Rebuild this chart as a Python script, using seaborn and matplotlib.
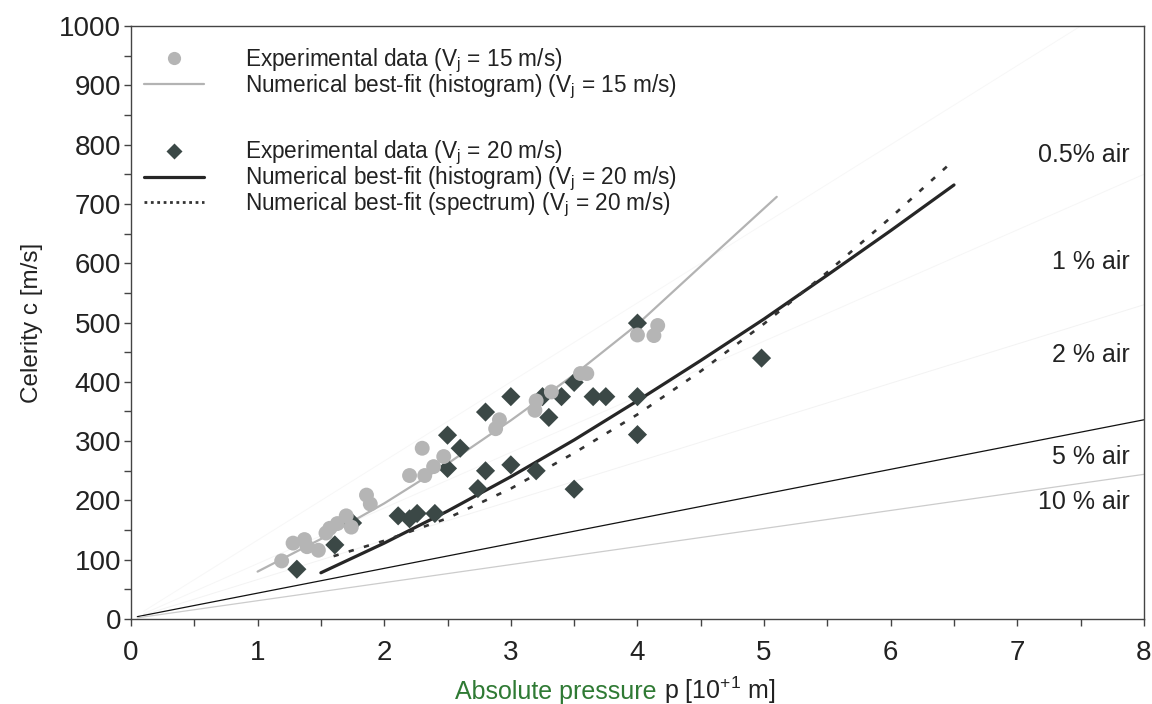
import matplotlib
matplotlib.use("Agg")
import matplotlib.pyplot as plt
import seaborn as sns
from matplotlib.lines import Line2D
from matplotlib.offsetbox import TextArea, HPacker, AnchoredOffsetbox

# --- data ---
# experimental data, Vj = 15 m/s (grey circles)
p15 = [1.19, 1.28, 1.37, 1.39, 1.48, 1.54, 1.57, 1.63, 1.70, 1.74, 1.86, 1.89,
       2.20, 2.30, 2.32, 2.39, 2.47, 2.88, 2.91, 3.19, 3.20, 3.32, 3.55, 3.60,
       4.00, 4.13, 4.16]
c15 = [98, 128, 134, 122, 116, 145, 153, 161, 174, 155, 209, 194,
       242, 288, 242, 257, 274, 321, 336, 352, 368, 383, 414, 414,
       479, 478, 495]

# experimental data, Vj = 20 m/s (dark diamonds)
p20 = [1.31, 1.61, 1.75, 2.11, 2.20, 2.26, 2.40, 2.50, 2.50, 2.60, 2.74, 2.80,
       2.80, 3.00, 3.00, 3.20, 3.25, 3.30, 3.40, 3.50, 3.50, 3.65, 3.75, 4.00,
       4.00, 4.00, 4.98]
c20 = [84, 125, 162, 174, 169, 178, 178, 310, 254, 288, 220, 349,
       250, 260, 375, 250, 375, 340, 375, 399, 219, 375, 375, 375,
       499, 311, 440]

# numerical best-fit curves
fit15_p = [1.0, 1.5, 2.0, 2.5, 3.0, 3.5, 4.0, 4.5, 5.1]
fit15_c = [80, 135, 195, 262, 335, 412, 497, 595, 712]

fit20_p = [1.5, 2.0, 2.5, 3.0, 3.5, 4.0, 4.5, 5.0, 5.5, 6.0, 6.5]
fit20_c = [78, 128, 182, 240, 302, 368, 436, 506, 580, 655, 732]

spec20_p = [1.6, 2.0, 2.5, 3.0, 3.5, 4.0, 4.5, 5.0, 5.5, 6.0, 6.5]
spec20_c = [106, 132, 170, 220, 280, 345, 418, 498, 585, 677, 774]

# air-content reference lines (end points)
air_labels = ["0.5% air", "1 % air", "2 % air", "5 % air", "10 % air"]
air_p = [[0.1, 7.5], [0.1, 8.0], [0.1, 8.0], [0.05, 8.0], [0.05, 8.0]]
air_c = [[13, 1000], [9, 750], [7, 530], [4, 336], [2, 244]]
air_label_c = [782, 602, 445, 273, 197]

# --- plot ---
sns.set_theme(style="ticks")
plt.rcParams["font.family"] = ["Liberation Sans", "DejaVu Sans"]
plt.rcParams["mathtext.default"] = "regular"

fig, ax = plt.subplots(figsize=(11.52, 7.04), dpi=100)
fig.subplots_adjust(left=0.1137, right=0.993, bottom=0.1207, top=0.963)

air_colors = ["#f7f7f7", "#f6f6f6", "#f3f3f3", "#111111", "#cccccc"]
air_widths = [0.7, 0.7, 0.7, 0.9, 0.9]
for xs, ys, col, lw in zip(air_p, air_c, air_colors, air_widths):
    sns.lineplot(x=xs, y=ys, ax=ax, color=col, lw=lw, sort=False)

sns.lineplot(x=fit15_p, y=fit15_c, ax=ax, color="#b3b3b3", lw=1.6, sort=False)
sns.lineplot(x=fit20_p, y=fit20_c, ax=ax, color="#262626", lw=2.3, sort=False)
sns.lineplot(x=spec20_p, y=spec20_c, ax=ax, color="#333333", lw=1.9, sort=False,
             linestyle=(0, (2, 4)))

sns.scatterplot(x=p20, y=c20, ax=ax, marker="D", s=95, color="#3b4846",
                edgecolor="none", zorder=3)
sns.scatterplot(x=p15, y=c15, ax=ax, marker="o", s=115, color="#b5b5b5",
                edgecolor="none", zorder=4)

for lab, yc in zip(air_labels, air_label_c):
    ax.text(7.89, yc, lab, ha="right", va="center", fontsize=18, color="#222222")

ax.set_xlim(0, 8)
ax.set_ylim(0, 1000)
ax.set_xticks(range(0, 9))
ax.set_xticks([i + 0.5 for i in range(8)], minor=True)
ax.set_yticks(range(0, 1001, 100))
ax.set_yticks(range(50, 1000, 100), minor=True)
ax.tick_params(axis="both", which="both", direction="out", length=5, width=1,
               color="#444444", labelsize=20, labelcolor="#222222")
ax.tick_params(axis="x", pad=10)
ax.tick_params(axis="y", pad=2)
for sp in ax.spines.values():
    sp.set_color("#444444")
    sp.set_linewidth(1.0)

ax.set_ylabel("Celerity c [m/s]", fontsize=17.5, color="#222222", labelpad=12)

# x label: first part printed in green
xl = HPacker(children=[
    TextArea("Absolute pressure ", textprops=dict(color="#2f7a34", size=18)),
    TextArea("p [10$^{+1}$ m]", textprops=dict(color="#222222", size=18)),
], align="baseline", pad=0, sep=0)
box = AnchoredOffsetbox(loc="upper center", child=xl, pad=0, frameon=False,
                        bbox_to_anchor=(0.478, -0.093), bbox_transform=ax.transAxes,
                        borderpad=0)
ax.add_artist(box)

blank = Line2D([], [], linestyle="none")
handles = [
    Line2D([], [], marker="o", linestyle="none", markersize=9.5,
           markerfacecolor="#b5b5b5", markeredgecolor="none"),
    Line2D([], [], color="#b3b3b3", lw=1.6),
    blank, blank,
    Line2D([], [], marker="D", linestyle="none", markersize=8.5,
           markerfacecolor="#3b4846", markeredgecolor="none"),
    Line2D([], [], color="#262626", lw=2.3),
    Line2D([], [], color="#333333", lw=2.0, linestyle=(0, (1, 1.3))),
]
labels = [
    "Experimental data (V$_j$ = 15 m/s)",
    "Numerical best-fit (histogram) (V$_j$ = 15 m/s)",
    "", "",
    "Experimental data (V$_j$ = 20 m/s)",
    "Numerical best-fit (histogram) (V$_j$ = 20 m/s)",
    "Numerical best-fit (spectrum) (V$_j$ = 20 m/s)",
]
ax.legend(handles, labels, loc="upper left", bbox_to_anchor=(0.0128, 0.966),
          frameon=False, fontsize=16.3, handlelength=2.65, handletextpad=1.8,
          labelspacing=-0.11, borderpad=0, borderaxespad=0, labelcolor="#222222")

fig.savefig("out.png", dpi=100)
